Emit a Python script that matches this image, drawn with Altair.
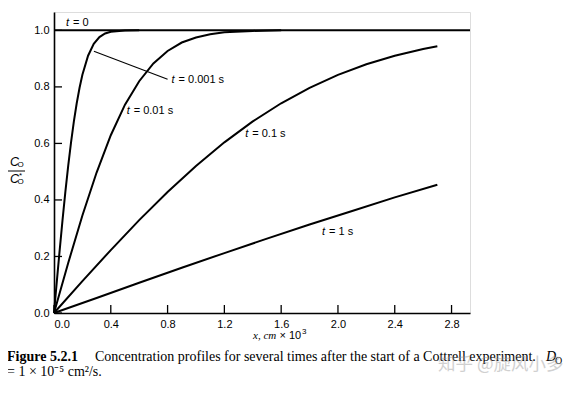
import altair as alt
import pandas as pd

# ---- data (x in cm x 10^3, y = C_O / C_O*) ----
x_t0 = [0.0, 2.93]
y_t0 = [1.0, 1.0]

x_t0001 = [0.0, 0.02, 0.04, 0.06, 0.08, 0.10, 0.12, 0.14, 0.16, 0.18, 0.20, 0.24, 0.28, 0.32, 0.36, 0.40, 0.50, 0.60]
y_t0001 = [0.0, 0.1125, 0.2227, 0.3286, 0.4284, 0.5205, 0.6039, 0.6778, 0.7421, 0.7969, 0.8427, 0.9103, 0.9523, 0.9763, 0.9891, 0.9953, 0.9993, 1.0]

x_t001 = [0.0, 0.1, 0.2, 0.3, 0.4, 0.5, 0.6, 0.7, 0.8, 0.9, 1.0, 1.1, 1.2, 1.4, 1.6]
y_t001 = [0.0, 0.177, 0.345, 0.497, 0.629, 0.737, 0.820, 0.883, 0.927, 0.957, 0.975, 0.986, 0.993, 0.998, 1.0]

x_t01 = [0.0, 0.2, 0.4, 0.6, 0.8, 1.0, 1.2, 1.4, 1.6, 1.8, 2.0, 2.2, 2.4, 2.6, 2.7]
y_t01 = [0.0, 0.1125, 0.2227, 0.3286, 0.4284, 0.5205, 0.6039, 0.6778, 0.7421, 0.7969, 0.8427, 0.8802, 0.9103, 0.9340, 0.9438]

x_t1 = [0.0, 0.3, 0.6, 0.9, 1.2, 1.5, 1.8, 2.1, 2.4, 2.7]
y_t1 = [0.0, 0.053, 0.107, 0.160, 0.212, 0.263, 0.313, 0.361, 0.409, 0.454]

x_ticks = [0.0, 0.4, 0.8, 1.2, 1.6, 2.0, 2.4, 2.8]
y_ticks = [0.0, 0.2, 0.4, 0.6, 0.8, 1.0]

label_t = ["t", "t", "t", "t", "t"]
label_rest = ["= 0", "= 0.001 s", "= 0.01 s", "= 0.1 s", "= 1 s"]
label_x = [0.084, 0.828, 0.512, 1.347, 1.888]
label_y = [1.025, 0.823, 0.714, 0.633, 0.286]

leader_x = [0.281]
leader_x2 = [0.800]
leader_y = [0.926]
leader_y2 = [0.827]

caption_bold = "Figure 5.2.1"
caption_1 = "Concentration profiles for several times after the start of a Cottrell experiment."
caption_2 = "= 1 \u00d7 10\u207b\u2075 cm\u00b2/s."
watermark = "知乎 @旋风小多"

# ---- build tables ----
rows = []
for name, xs_, ys_ in [("t0", x_t0, y_t0), ("t0001", x_t0001, y_t0001), ("t001", x_t001, y_t001),
                       ("t01", x_t01, y_t01), ("t1", x_t1, y_t1)]:
    for i, (a, b) in enumerate(zip(xs_, ys_)):
        rows.append({"series": name, "x": a, "y": b, "i": i})
lines_df = pd.DataFrame(rows)

X_DOM = [0, 2.93]
Y_DOM = [0, 1.065]
xs = alt.Scale(domain=X_DOM, nice=False, zero=False)
ys = alt.Scale(domain=Y_DOM, nice=False, zero=False)

SANS = "Liberation Sans"
SERIF = "Liberation Serif"

lines = alt.Chart(lines_df).mark_line(color="black", strokeWidth=2, clip=False).encode(
    x=alt.X("x:Q", scale=xs, axis=alt.Axis(values=x_ticks, format=".1f", title=None, ticks=False,
                                            grid=False, labelFont=SANS, labelFontSize=11, labelColor="black",
                                            labelPadding=5, domainColor="black", domainWidth=1.6)),
    y=alt.Y("y:Q", scale=ys, axis=alt.Axis(values=y_ticks, format=".1f", title=None, ticks=False,
                                            grid=False, labelFont=SANS, labelFontSize=11, labelColor="black",
                                            labelPadding=5, domainColor="black", domainWidth=1.6)),
    detail="series:N",
    order="i:Q",
)

ytick = alt.Chart(pd.DataFrame({"v": y_ticks})).mark_rule(color="black", strokeWidth=1.3).encode(
    y=alt.Y("v:Q", scale=ys, axis=None), x=alt.value(0), x2=alt.value(8))
xtick = alt.Chart(pd.DataFrame({"v": x_ticks})).mark_rule(color="black", strokeWidth=1.3).encode(
    x=alt.X("v:Q", scale=xs, axis=None), y=alt.value(301), y2=alt.value(293))

lab_df = pd.DataFrame({"t": label_t, "r": label_rest, "x": label_x, "y": label_y})
lab_t = alt.Chart(lab_df).mark_text(font=SANS, fontSize=11, fontStyle="italic", align="left",
                                     baseline="middle", color="black").encode(
    x=alt.X("x:Q", scale=xs, axis=None), y=alt.Y("y:Q", scale=ys, axis=None), text="t:N")
lab_r = alt.Chart(lab_df).mark_text(font=SANS, fontSize=11, align="left", baseline="middle",
                                     color="black", dx=7).encode(
    x=alt.X("x:Q", scale=xs, axis=None), y=alt.Y("y:Q", scale=ys, axis=None), text="r:N")

leader = alt.Chart(pd.DataFrame({"x": leader_x, "x2": leader_x2, "y": leader_y, "y2": leader_y2})).mark_rule(
    color="black", strokeWidth=1.1).encode(
    x=alt.X("x:Q", scale=xs, axis=None), x2="x2:Q", y=alt.Y("y:Q", scale=ys, axis=None), y2="y2:Q")

one = pd.DataFrame({"a": [0]})

def txt(s, x, y, size=11, font=SANS, style="normal", weight="normal", align="left", color="black",
        baseline="middle", opacity=1.0):
    return alt.Chart(one).mark_text(text=s, font=font, fontSize=size, fontStyle=style, fontWeight=weight,
                                    align=align, baseline=baseline, color=color, opacity=opacity).encode(
        x=alt.value(x), y=alt.value(y))

# y-axis title: C_O / C_O*
ytitle = [
    txt("C", -39.5, 150, size=12.5, font=SANS, style="italic", align="center"),
    txt("O", -33.5, 153, size=8, font=SANS, align="center"),
    alt.Chart(one).mark_rule(color="black", strokeWidth=1).encode(
        x=alt.value(-46), x2=alt.value(-29), y=alt.value(159)),
    txt("C", -39.5, 167, size=12.5, font=SANS, style="italic", align="center"),
    txt("*", -33.5, 164, size=8, font=SANS, align="center"),
    txt("O", -33.5, 170, size=8, font=SANS, align="center"),
]

xtitle = [
    txt("x, cm", 199, 324, size=11, font=SERIF, style="italic"),
    txt("\u00d7 10", 225.5, 324, size=11, font=SANS),
    txt("3", 248, 320, size=8, font=SANS),
]

caption = [
    txt(caption_bold, -47, 349, size=14, font=SERIF, weight="bold", baseline="alphabetic"),
    txt(caption_1, 41, 349, size=14, font=SERIF, baseline="alphabetic"),
    txt("D", 492, 349, size=14, font=SERIF, style="italic", baseline="alphabetic"),
    txt("O", 501, 352, size=10, font=SERIF, baseline="alphabetic"),
    txt(caption_2, -47, 364, size=14, font=SERIF, baseline="alphabetic"),
    txt(watermark, 384, 353, size=17.5, font="Noto Sans CJK SC", color="#999999", opacity=0.45),
]

chart = alt.layer(lines, ytick, xtick, leader, lab_t, lab_r, *ytitle, *xtitle, *caption).properties(
    width=416, height=301,
    autosize=alt.AutoSizeParams(type="none"),
    padding={"left": 46, "top": 4, "right": 101, "bottom": 72},
).resolve_axis(x="independent", y="independent").configure_view(stroke=None).configure(background="white")

chart.save("out.html", embed_options={"renderer": "svg", "actions": False})
